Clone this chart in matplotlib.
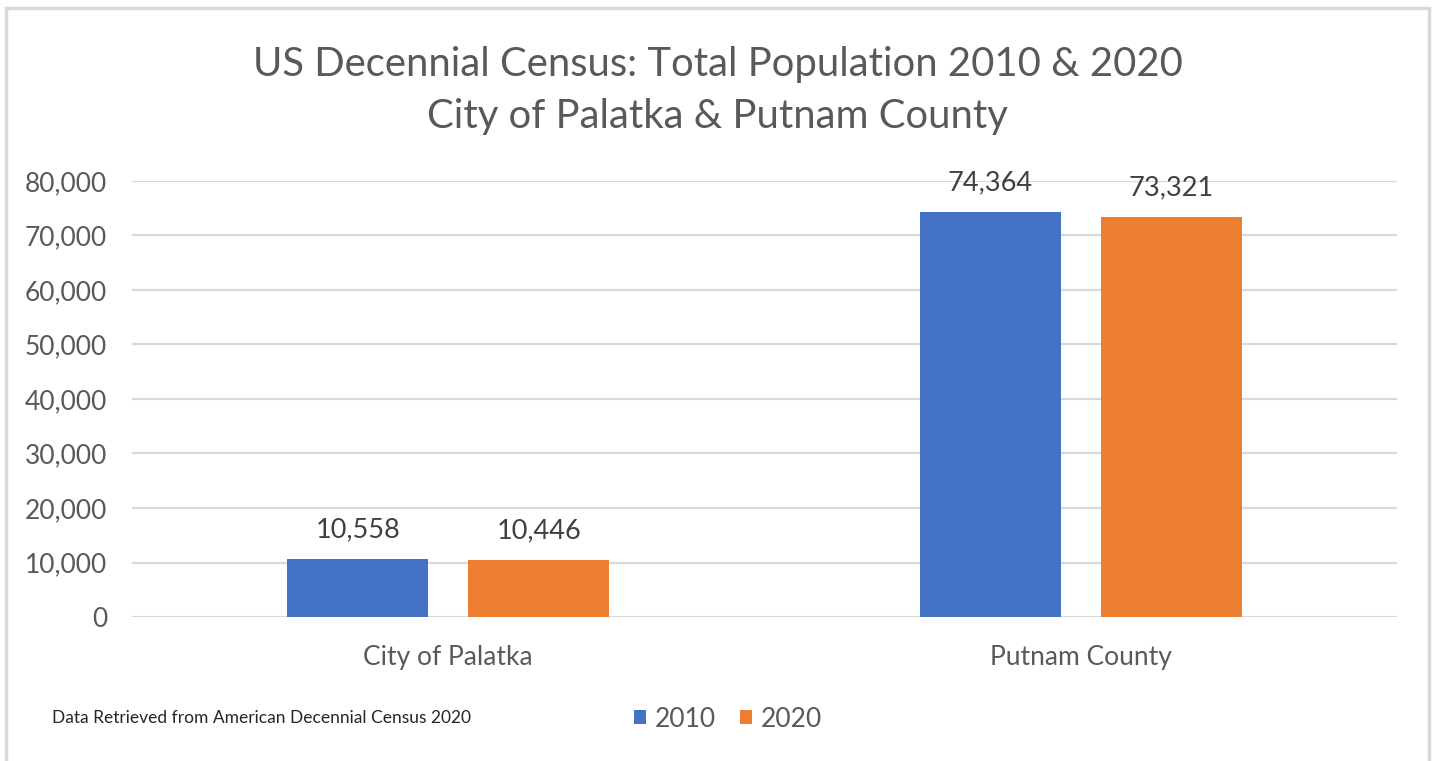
import numpy as np
import matplotlib
matplotlib.use("Agg")
import matplotlib.pyplot as plt
from matplotlib.patches import Rectangle

categories = ["City of Palatka", "Putnam County"]
years = ["2010", "2020"]
pop_2010 = [10558, 74364]
pop_2020 = [10446, 73321]
yticks = [0, 10000, 20000, 30000, 40000, 50000, 60000, 70000, 80000]

blue = "#4472C4"
orange = "#ED7D31"
txt = "#595959"

plt.rcParams["font.family"] = ["Lato", "DejaVu Sans"]

fig = plt.figure(figsize=(14.35, 7.61), dpi=100)
ax = fig.add_axes([0.092, 0.1892, 0.8815, 0.573])

# chart border
fig.patches.append(Rectangle((0.004, -0.01), 0.992, 0.999, transform=fig.transFigure,
                             fill=False, edgecolor="#D9D9D9", linewidth=2.5))

x = np.arange(len(categories))
w = 0.223
off = 0.143
b1 = ax.bar(x - off, pop_2010, w, color=blue, label=years[0], zorder=3)
b2 = ax.bar(x + off, pop_2020, w, color=orange, label=years[1], zorder=3)

for bars in (b1, b2):
    for r in bars:
        ax.annotate(f"{int(r.get_height()):,}", (r.get_x() + r.get_width() / 2, r.get_height()),
                    xytext=(0, 12), textcoords="offset points", ha="center", va="bottom",
                    fontsize=19.5, color="#404040")

ax.set_xlim(-0.5, 1.5)
ax.set_ylim(0, 80000)
ax.set_yticks(yticks)
ax.set_yticklabels([f"{v:,}" for v in yticks])
ax.set_xticks(x)
ax.set_xticklabels(categories)
ax.tick_params(axis="both", length=0, labelsize=19, labelcolor=txt)
ax.tick_params(axis="y", pad=18)
ax.tick_params(axis="x", pad=20)
ax.grid(axis="y", color="#D9D9D9", linewidth=1.6, zorder=0)
for s in ax.spines.values():
    s.set_visible(False)

fig.text(0.5, 0.915, "US Decennial Census: Total Population 2010 & 2020", ha="center", va="center",
         fontsize=28.8, color=txt)
fig.text(0.5, 0.847, "City of Palatka & Putnam County", ha="center", va="center",
         fontsize=28.8, color=txt)

fig.text(0.036, 0.056, "Data Retrieved from American Decennial Census 2020", ha="left", va="center",
         fontsize=12.5, color="#262626")

fig.legend(loc="center", bbox_to_anchor=(0.5075, 0.055), ncol=2, frameon=False, fontsize=19,
           handlelength=0.45, handleheight=0.45, handletextpad=0.35, columnspacing=0.9,
           labelcolor=txt)

fig.savefig("out.png", dpi=100, facecolor="white")
